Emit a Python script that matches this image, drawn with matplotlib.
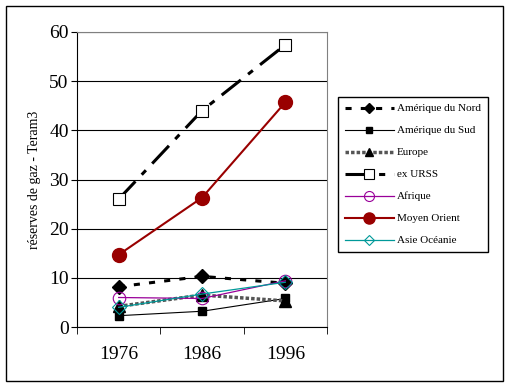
import numpy as np
import matplotlib.pyplot as plt
import matplotlib
from matplotlib.patches import Rectangle

matplotlib.rcParams['font.family'] = ['Liberation Serif', 'DejaVu Serif']

years = ['1976', '1986', '1996']
am_nord = [8.2, 10.3, 8.9]
am_sud = [2.3, 3.2, 5.8]
europe = [4.2, 6.5, 5.3]
ex_urss = [26.0, 44.0, 57.4]
afrique = [6.0, 5.8, 9.4]
moyen_orient = [14.7, 26.3, 45.7]
asie_oceanie = [4.0, 6.7, 9.1]

fig = plt.figure(figsize=(5.09, 3.87), dpi=100)
# outer border of the chart
fig.patches.append(Rectangle((6/509, 6/387), 497/509, 375/387, transform=fig.transFigure,
                             fill=False, edgecolor='black', linewidth=1))

ax = fig.add_axes([77/509, 1-327/387, 250/509, 295/387])
x = np.arange(len(years))

ax.plot(x, am_nord, color='black', linestyle=(0, (2, 3)), linewidth=2.2,
        marker='D', markersize=7, label='Amérique du Nord')
ax.plot(x, am_sud, color='black', linewidth=0.8,
        marker='s', markersize=6, label='Amérique du Sud')
ax.plot(x, europe, color='#555555', linestyle=(0, (1, 0.6)), linewidth=2.5,
        marker='^', markersize=8, markerfacecolor='black', markeredgecolor='black', label='Europe')
ax.plot(x, ex_urss, color='black', linestyle=(0, (8, 3, 2, 3)), linewidth=2.2,
        marker='s', markersize=9, markerfacecolor='white', markeredgecolor='black',
        markeredgewidth=0.8, label='ex URSS')
ax.plot(x, afrique, color='#990099', linewidth=0.9,
        marker='o', markersize=9, markerfacecolor='none', markeredgecolor='#990099',
        markeredgewidth=0.8, label='Afrique')
ax.plot(x, moyen_orient, color='#990000', linewidth=1.5,
        marker='o', markersize=10, markerfacecolor='#990000', label='Moyen Orient')
ax.plot(x, asie_oceanie, color='#009999', linewidth=0.9,
        marker='D', markersize=7, markerfacecolor='none', markeredgecolor='#009999',
        markeredgewidth=0.8, label='Asie Océanie')

ax.set_xlim(-0.5, 2.5)
ax.set_ylim(0, 60)
ax.set_yticks(range(0, 61, 10))
ax.set_xticks(x)
ax.set_xticklabels(years, fontsize=14)
ax.set_xticks([-0.5, 0.5, 1.5, 2.5], minor=True)
ax.tick_params(axis='x', which='major', length=0, pad=14)
ax.tick_params(axis='x', which='minor', length=5, direction='out', color='black')
ax.tick_params(axis='y', labelsize=14, length=4, direction='out', pad=2)
ax.yaxis.grid(True, color='black', linewidth=0.8)
ax.set_axisbelow(True)
for s in ['top', 'right']:
    ax.spines[s].set_color('#808080')
ax.set_ylabel('réserves de gaz - Teram3', fontsize=10, labelpad=6)

ax.legend(loc='upper left', bbox_to_anchor=((338 - 77)/250, 1 - (97 - 32)/295),
          borderaxespad=0, fontsize=8, frameon=True, fancybox=False, edgecolor='black',
          framealpha=1, handlelength=4.4, borderpad=0.6, labelspacing=1.1,
          handletextpad=0.3, markerscale=0.8)

plt.savefig('out.png', dpi=100)
